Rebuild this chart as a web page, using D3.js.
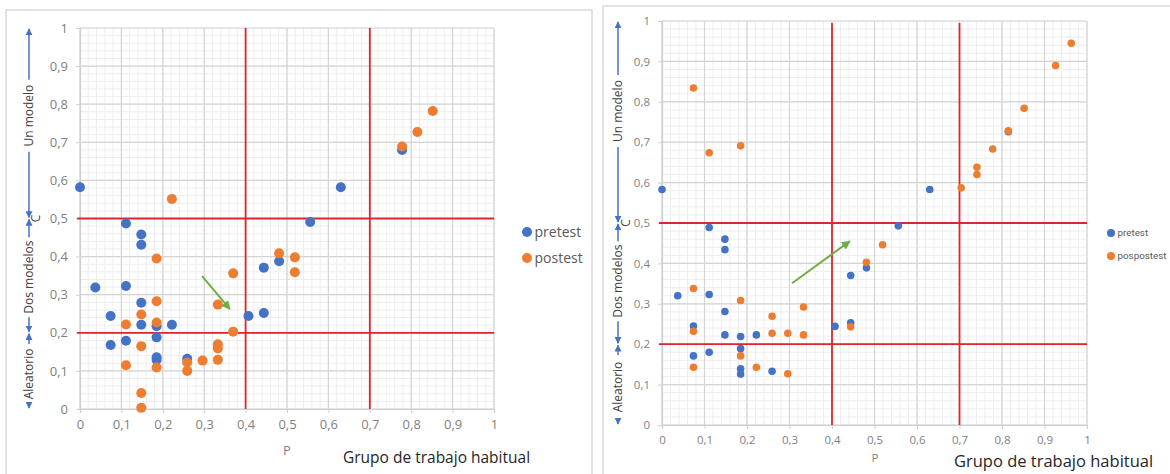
<!DOCTYPE html>
<html><head><meta charset="utf-8">
<script src="https://cdn.jsdelivr.net/npm/d3@7"></script>
<style>
body{margin:0;background:#fff;}
svg{display:block;}
text{font-family:"Open Sans","Noto Sans",sans-serif;}
</style></head>
<body>
<svg id="c" width="1170" height="474"></svg>
<script>
// ---- data ----
const tickValues = [0,0.1,0.2,0.3,0.4,0.5,0.6,0.7,0.8,0.9,1];
const tickLabels = ["0","0,1","0,2","0,3","0,4","0,5","0,6","0,7","0,8","0,9","1"];
const thresholdsX = [0.4, 0.7];
const thresholdsY = [0.2, 0.5];
const zoneLabels = ["Un modelo","Dos modelos","Aleatorio"];
const zoneBounds = [[1,0.5],[0.5,0.2],[0.2,0]];

const leftPretest = [
 [0,0.582],[0.111,0.487],[0.148,0.458],[0.148,0.431],[0.037,0.319],[0.111,0.323],
 [0.148,0.279],[0.074,0.244],[0.148,0.221],[0.185,0.217],[0.222,0.221],[0.074,0.168],
 [0.111,0.179],[0.185,0.188],[0.185,0.136],[0.185,0.129],[0.259,0.132],[0.407,0.244],
 [0.444,0.252],[0.444,0.371],[0.481,0.388],[0.556,0.491],[0.63,0.582],[0.778,0.68]
];
const leftPostest = [
 [0.222,0.551],[0.185,0.395],[0.185,0.283],[0.148,0.248],[0.111,0.222],[0.185,0.227],
 [0.148,0.165],[0.111,0.115],[0.185,0.109],[0.259,0.122],[0.259,0.1],[0.296,0.127],
 [0.333,0.17],[0.333,0.159],[0.333,0.129],[0.333,0.274],[0.37,0.356],[0.37,0.203],
 [0.148,0.042],[0.148,0.003],[0.481,0.409],[0.519,0.398],[0.519,0.359],[0.778,0.689],
 [0.815,0.727],[0.852,0.782]
];
const rightPretest = [
 [0,0.583],[0.111,0.489],[0.148,0.46],[0.148,0.434],[0.037,0.32],[0.111,0.323],
 [0.148,0.281],[0.074,0.245],[0.148,0.223],[0.185,0.219],[0.222,0.223],[0.074,0.171],
 [0.111,0.18],[0.185,0.189],[0.185,0.139],[0.185,0.126],[0.259,0.133],[0.407,0.244],
 [0.444,0.253],[0.444,0.37],[0.481,0.389],[0.556,0.493],[0.63,0.583],[0.815,0.726]
];
const rightPospostest = [
 [0.074,0.834],[0.111,0.674],[0.185,0.691],[0.074,0.338],[0.185,0.308],[0.074,0.232],
 [0.074,0.143],[0.185,0.171],[0.222,0.143],[0.259,0.269],[0.259,0.227],[0.296,0.227],
 [0.296,0.127],[0.333,0.292],[0.333,0.223],[0.444,0.243],[0.481,0.403],[0.519,0.446],
 [0.704,0.587],[0.741,0.638],[0.741,0.62],[0.778,0.683],[0.815,0.728],[0.852,0.784],
 [0.926,0.89],[0.963,0.945]
];
const leftArrow = [[0.295,0.349],[0.362,0.262]];
const rightArrow = [[0.306,0.351],[0.442,0.455]];

const BLUE="#4472C4", ORANGE="#ED7D31", RED="#E0262B", GREEN="#70AD47", GRAY="#595959";

const svg = d3.select("#c");
const defs = svg.append("defs");
function marker(id,color,size){
  defs.append("marker").attr("id",id).attr("viewBox","0 0 10 10").attr("refX",9).attr("refY",5)
   .attr("markerWidth",size).attr("markerHeight",size).attr("orient","auto-start-reverse")
   .attr("markerUnits","userSpaceOnUse")
   .append("path").attr("d","M0,0L10,5L0,10z").attr("fill",color);
}
marker("ag",GREEN,9);
marker("ab",BLUE,7);

function panel(o){
  const g = svg.append("g");
  g.append("rect").attr("x",o.frame[0]).attr("y",o.frame[1]).attr("width",o.frame[2]).attr("height",o.frame[3])
   .attr("fill","#fff").attr("stroke","#d9d9d9").attr("stroke-width",1.5);
  const x = d3.scaleLinear().domain([0,1]).range(o.xr);
  const y = d3.scaleLinear().domain([0,1]).range(o.yr);
  const minor = d3.range(0,1.0001,0.02);
  // minor grid
  g.append("g").selectAll("line").data(minor).join("line")
   .attr("x1",d=>x(d)).attr("x2",d=>x(d)).attr("y1",y(0)).attr("y2",y(1))
   .attr("stroke","#ededed").attr("stroke-width",1);
  g.append("g").selectAll("line").data(minor).join("line")
   .attr("y1",d=>y(d)).attr("y2",d=>y(d)).attr("x1",x(0)).attr("x2",x(1))
   .attr("stroke","#ededed").attr("stroke-width",1);
  // major grid
  g.append("g").selectAll("line").data(tickValues).join("line")
   .attr("x1",d=>x(d)).attr("x2",d=>x(d)).attr("y1",y(0)).attr("y2",y(1))
   .attr("stroke","#d4d4d4").attr("stroke-width",1.2);
  g.append("g").selectAll("line").data(tickValues).join("line")
   .attr("y1",d=>y(d)).attr("y2",d=>y(d)).attr("x1",x(0)).attr("x2",x(1))
   .attr("stroke","#d4d4d4").attr("stroke-width",1.2);
  // axes
  const fmt = d=>tickLabels[tickValues.indexOf(d)];
  const ax = g.append("g").attr("transform",`translate(0,${y(0)})`)
   .call(d3.axisBottom(x).tickValues(tickValues).tickFormat(fmt).tickSize(4).tickPadding(o.tp));
  const ay = g.append("g").attr("transform",`translate(${x(0)},0)`)
   .call(d3.axisLeft(y).tickValues(tickValues).tickFormat(fmt).tickSize(4).tickPadding(o.tpy));
  [ax,ay].forEach(a=>{
    a.select(".domain").attr("stroke","#cfcfcf").attr("stroke-width",1.2);
    a.selectAll(".tick line").attr("stroke","#cfcfcf");
    a.selectAll("text").attr("fill","#7f7f7f").attr("font-size",o.fs).style("font-family","'Open Sans',sans-serif");
  });
  // red thresholds
  g.append("g").selectAll("line").data(thresholdsX).join("line")
   .attr("x1",d=>x(d)).attr("x2",d=>x(d)).attr("y1",y(0)).attr("y2",y(o.redTop))
   .attr("stroke",RED).attr("stroke-width",1.8);
  g.append("g").selectAll("line").data(thresholdsY).join("line")
   .attr("y1",d=>y(d)).attr("y2",d=>y(d)).attr("x1",x(-0.007)).attr("x2",x(1))
   .attr("stroke",RED).attr("stroke-width",1.8);
  // points
  g.append("g").selectAll("circle").data(o.pre).join("circle")
   .attr("cx",d=>x(d[0])).attr("cy",d=>y(d[1])).attr("r",o.r).attr("fill",BLUE);
  g.append("g").selectAll("circle").data(o.post).join("circle")
   .attr("cx",d=>x(d[0])).attr("cy",d=>y(d[1])).attr("r",o.r).attr("fill",ORANGE);
  // green arrow
  g.append("line").attr("x1",x(o.arrow[0][0])).attr("y1",y(o.arrow[0][1]))
   .attr("x2",x(o.arrow[1][0])).attr("y2",y(o.arrow[1][1]))
   .attr("stroke",GREEN).attr("stroke-width",2).attr("marker-end","url(#ag)");
  // zone arrows and labels
  zoneBounds.forEach((b,i)=>{
    const yc = y(o.zoneCenters[i]);
    const half = o.zoneHalf[i];
    g.append("line").attr("x1",o.ax).attr("x2",o.ax).attr("y1",yc-half-8).attr("y2",y(b[0])+1)
     .attr("stroke",BLUE).attr("stroke-width",1.5).attr("marker-end","url(#ab)");
    g.append("line").attr("x1",o.ax).attr("x2",o.ax).attr("y1",yc+half+8).attr("y2",y(b[1])-1)
     .attr("stroke",BLUE).attr("stroke-width",1.5).attr("marker-end","url(#ab)");
    g.append("text").attr("transform",`translate(${o.ax+4},${yc}) rotate(-90)`)
     .attr("text-anchor","middle").attr("font-size",o.zfs).attr("fill","#404040").text(zoneLabels[i]);
  });
  g.append("text").attr("transform",`translate(${o.cx},${y(0.5)}) rotate(-90)`)
   .attr("text-anchor","middle").attr("font-size",o.zfs).attr("fill","#404040").text("C");
  g.append("text").attr("x",o.px).attr("y",o.py).attr("text-anchor","middle")
   .attr("font-size",o.fs).attr("fill","#7f7f7f").text("P");
  g.append("text").attr("x",o.gx).attr("y",o.gy).attr("font-size",o.gfs).attr("fill","#262626")
   .style("font-family","'Open Sans',sans-serif").text("Grupo de trabajo habitual");
  // legend
  const leg = g.append("g").attr("transform",`translate(${o.lx},${o.ly})`);
  [[o.names[0],BLUE],[o.names[1],ORANGE]].forEach((d,i)=>{
    leg.append("circle").attr("cx",0).attr("cy",i*o.lgap).attr("r",o.lr).attr("fill",d[1]);
    leg.append("text").attr("x",o.lr+2.5).attr("y",i*o.lgap).attr("dy","0.35em")
     .attr("font-size",o.lfs).attr("fill",GRAY).style("font-family",o.lff).text(d[0]);
  });
}

panel({frame:[6,10,586,470], xr:[80,494], yr:[409,28], pre:leftPretest, post:leftPostest, r:5,
  arrow:leftArrow, redTop:1, tp:7, tpy:8, fs:13, zfs:12, ax:29, cx:40,
  zoneCenters:[0.77,0.346,0.092], zoneHalf:[28,32,22],
  px:287, py:455, gx:343, gy:463, gfs:15.5, lx:527, ly:232, lgap:26, lr:5, lfs:14,
  lff:"'Open Sans',sans-serif", names:["pretest","postest"]});
panel({frame:[603,6,580,480], xr:[662,1087], yr:[425,21], pre:rightPretest, post:rightPospostest, r:3.8,
  arrow:rightArrow, redTop:0.995, tp:7, tpy:8, fs:11.5, zfs:12, ax:618, cx:630,
  zoneCenters:[0.777,0.356,0.094], zoneHalf:[28,32,24],
  px:875, py:462, gx:954, gy:467, gfs:16.5, lx:1111, ly:233, lgap:23, lr:4, lfs:9.8,
  lff:"Roboto,sans-serif", names:["pretest","pospostest"]});
</script>
</body></html>
